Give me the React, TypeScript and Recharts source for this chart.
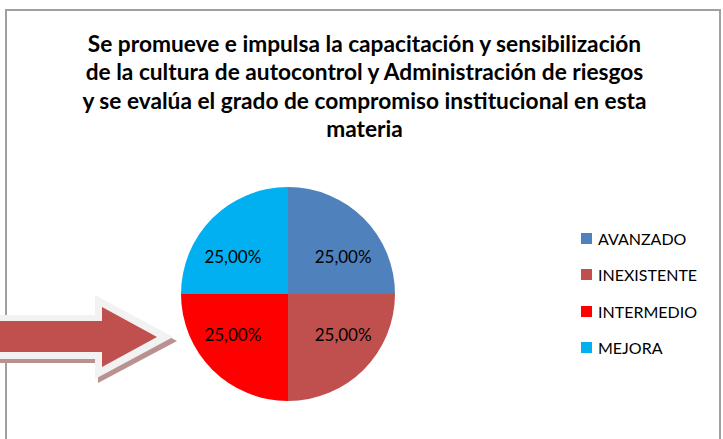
import { PieChart, Pie, Cell, Legend } from "recharts"

const categories = ["AVANZADO", "INEXISTENTE", "INTERMEDIO", "MEJORA"]
const values = [25, 25, 25, 25]
const colors = ["#4f81bd", "#c0504d", "#ff0000", "#00b0f0"]

const titleLines = [
  "Se promueve e impulsa la capacitación y sensibilización",
  "de la cultura de autocontrol y Administración de riesgos",
  "y se evalúa el grado de compromiso institucional en esta",
  "materia",
]

const data = categories.map((name, i) => ({ name, value: values[i], color: colors[i] }))

const FONT = "Lato, 'Open Sans', sans-serif"
const RAD = Math.PI / 180

function renderLabel(props: any) {
  const { cx, cy, midAngle, percent } = props
  const x = cx + 78 * Math.cos(-midAngle * RAD)
  const y = cy + 55 * Math.sin(-midAngle * RAD) + 1.5
  const txt = (percent * 100).toFixed(2).replace(".", ",") + "%"
  return (
    <text x={x} y={y} fill="#000" fontSize={17} fontFamily={FONT} textAnchor="middle" dominantBaseline="central">
      {txt}
    </text>
  )
}

function renderLegend(props: any) {
  const { payload } = props
  return (
    <div>
      {(payload || []).map((item: any) => (
        <div key={item.value} style={{ display: "flex", alignItems: "center", height: 36.5 }}>
          <div style={{ width: 11, height: 11, backgroundColor: item.color, marginRight: 6 }}></div>
          <span style={{ fontFamily: FONT, fontSize: 16, color: "#000" }}>{item.value}</span>
        </div>
      ))}
    </div>
  )
}

function Arrow() {
  return (
    <svg width={200} height={439} style={{ position: "absolute", left: 0, top: 0 }}>
      <polygon points="-10,319 98,319 98,299 177,341 98,383 98,363 -10,363" fill="#b99191" />
      <polygon points="-10,315 95,315 95,295 173,337 95,379 95,359 -10,359" fill="#f2f2f2" />
      <polygon points="-10,321 102,321 102,307 157,337 102,367 102,352 -10,352" fill="#c0504d" />
    </svg>
  )
}

export default function App() {
  return (
    <div style={{ position: "fixed", left: 0, top: 0, width: 723, height: 439, background: "#fff", overflow: "hidden" }}>
      <div
        style={{
          position: "absolute",
          left: 5,
          top: 9,
          width: 716,
          height: 460,
          border: "2px solid #a0a0a0",
          boxSizing: "border-box",
        }}
      ></div>
      <div
        style={{
          position: "absolute",
          left: 0,
          top: 30,
          width: 729,
          textAlign: "center",
          fontFamily: FONT,
          fontWeight: 700,
          fontSize: 22.7,
          lineHeight: "28.3px",
          color: "#000",
        }}
      >
        {titleLines.map((l) => (
          <div key={l}>{l}</div>
        ))}
      </div>
      <div style={{ position: "absolute", left: 0, top: 0 }}>
        <PieChart width={723} height={439}>
          <Pie
            data={data}
            dataKey="value"
            nameKey="name"
            cx={283}
            cy={289}
            outerRadius={107}
            startAngle={90}
            endAngle={-270}
            stroke="none"
            label={renderLabel}
            labelLine={false}
            isAnimationActive={false}
          >
            {data.map((entry, index) => (
              <Cell key={`cell-${index}`} fill={entry.color} />
            ))}
          </Pie>
          <Legend
            layout="vertical"
            content={renderLegend}
            wrapperStyle={{ position: "absolute", left: 581, top: 220, width: 140 }}
          />
        </PieChart>
      </div>
      <Arrow />
    </div>
  )
}
